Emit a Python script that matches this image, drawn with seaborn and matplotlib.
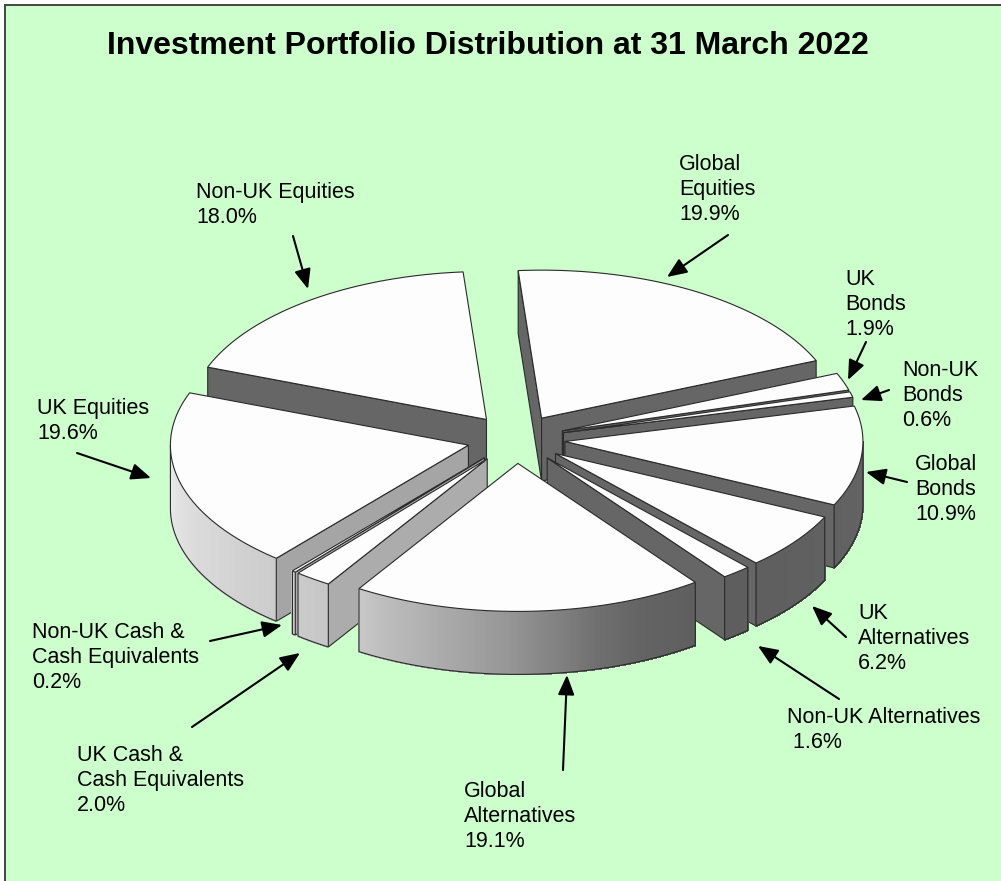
import numpy as np
import matplotlib
matplotlib.use("Agg")
import matplotlib.pyplot as plt
from matplotlib.patches import Polygon, Rectangle
import seaborn as sns

# ---- data ----
names = ["Global Equities", "UK Bonds", "Non-UK Bonds", "Global Bonds", "UK Alternatives",
         "Non-UK Alternatives", "Global Alternatives", "UK Cash & Cash Equivalents",
         "Non-UK Cash & Cash Equivalents", "UK Equities", "Non-UK Equities"]
shares = [19.9, 1.9, 0.6, 10.9, 6.2, 1.6, 19.1, 2.0, 0.2, 19.6, 18.0]
label_texts = ["Global\nEquities\n19.9%", "UK\nBonds\n1.9%", "Non-UK\nBonds\n0.6%",
               "Global\nBonds\n10.9%", "UK\nAlternatives\n6.2%", "Non-UK Alternatives\n 1.6%",
               "Global\nAlternatives\n19.1%", "UK Cash &\nCash Equivalents\n2.0%",
               "Non-UK Cash &\nCash Equivalents\n0.2%", "UK Equities\n19.6%", "Non-UK Equities\n18.0%"]
title = "Investment Portfolio Distribution at 31 March 2022"

# ---- layout (pixels) ----
label_xy = [(679, 154), (845, 269), (902, 360), (915, 454), (858, 603), (787, 707),
            (464, 781), (77, 745), (32, 622), (37, 398), (196, 182)]
arrow_tail = [(728, 235), (866, 342), (889, 390), (907, 482), (846, 637), (839, 699),
              (563, 770), (192, 727), (210, 641), (77, 453), (293, 236)]
arrow_tip = [(667, 277), (848, 380), (861, 400), (866, 472), (812, 606), (758, 646),
             (567, 675), (300, 653), (282, 625), (151, 478), (308, 289)]
cx, cy, rx, ry, depth, explode, start_angle = 516, 439, 298, 148, 63, 0.165, -4.5
draw_order = [10, 0, 1, 2, 3, 4, 5, 9, 8, 7, 6]
wall_gray = [102] * 7 + [172, 172, 165, 102]
rim_angles = [90, 143, 156, 165, 172, 182, 212, 270]
rim_grays = [100, 94, 100, 112, 128, 150, 198, 234]
edge = "#2a2a2a"
BG = "#CCFFCC"

sns.set_style("white")
plt.rcParams["font.family"] = ["Liberation Sans", "DejaVu Sans"]

fig = plt.figure(figsize=(10.01, 8.81), dpi=100, facecolor="white")
ax = fig.add_axes([0, 0, 1, 1])
ax.set_xlim(0, 1001)
ax.set_ylim(881, 0)
ax.axis("off")
ax.add_patch(Rectangle((5, 5), 1100, 1000, fc=BG, ec="#444444", lw=1.4))


def pt(c, a):
    r = np.radians(a)
    return c[0] + rx * np.sin(r), c[1] - ry * np.cos(r)


def g(v):
    s = f"{int(round(v)):02x}"
    return "#" + s * 3


edges = start_angle + np.concatenate([[0], np.cumsum(shares)]) * 360.0 / sum(shares)
for i in draw_order:
    a0, a1 = edges[i], edges[i + 1]
    m = np.radians((a0 + a1) / 2)
    apex = (cx + explode * rx * np.sin(m), cy - explode * ry * np.cos(m))

    def wall(a):
        p = pt(apex, a)
        ax.add_patch(Polygon([apex, p, (p[0], p[1] + depth), (apex[0], apex[1] + depth)],
                             closed=True, fc=g(wall_gray[i]), ec=edge, lw=0.8))

    if np.sin(np.radians(a0)) < 0:
        wall(a0)
    if np.sin(np.radians(a1)) > 0:
        wall(a1)

    lo, hi = max(a0, 90), min(a1, 270)
    if hi > lo:
        steps = np.linspace(lo, hi, max(2, int((hi - lo) * 1.5) + 1))
        for u, v in zip(steps[:-1], steps[1:]):
            p, q = pt(apex, u), pt(apex, v)
            col = g(np.interp((u + v) / 2, rim_angles, rim_grays))
            ax.add_patch(Polygon([p, q, (q[0], q[1] + depth), (p[0], p[1] + depth)],
                                 closed=True, fc=col, ec=col, lw=0.8, antialiased=False))
        arc = [pt(apex, u) for u in steps]
        outline = [(x, y + depth) for x, y in arc]
        ax.add_patch(Polygon([arc[0]] + outline + [arc[-1]], closed=False, fill=False, ec=edge, lw=0.8))

    arc = [pt(apex, u) for u in np.linspace(a0, a1, max(3, int(a1 - a0) * 2))]
    ax.add_patch(Polygon([apex] + arc, closed=True, fc="#FDFDFD", ec=edge, lw=0.8))

for txt, (x, y) in zip(label_texts, label_xy):
    ax.text(x, y, txt, ha="left", va="top", fontsize=15.5, color="black", linespacing=1.25)

for tail, tip in zip(arrow_tail, arrow_tip):
    ax.annotate("", xy=tip, xytext=tail,
                arrowprops=dict(arrowstyle="-|>,head_length=1.2,head_width=0.5", color="black",
                                lw=1.5, mutation_scale=10, shrinkA=0, shrinkB=0))

ax.text(487.5, 46, title, ha="center", va="center", fontsize=23, fontweight="bold", color="black")

fig.savefig("out.png", dpi=100, facecolor="white")
